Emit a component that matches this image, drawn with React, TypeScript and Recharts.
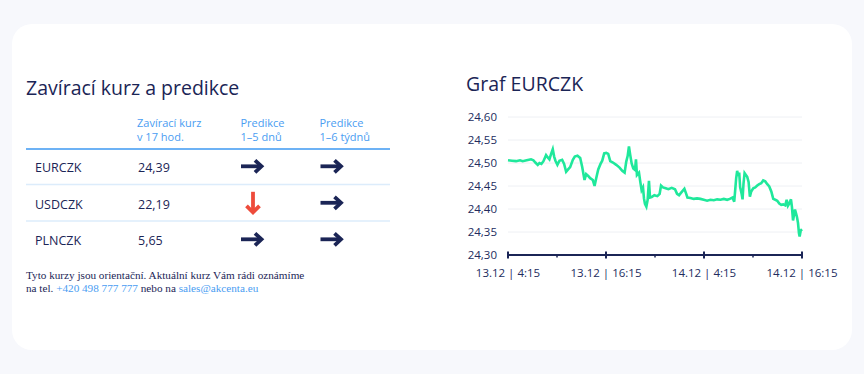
import { LineChart, Line, XAxis, YAxis, CartesianGrid } from 'recharts';

// hours since 13.12 4:15
const hours = [
  0, 0.49, 0.98, 1.47, 1.8, 2.29, 2.82, 3.11, 3.35, 3.64, 3.85, 4.09, 4.34, 4.66, 4.87, 5.07, 5.28, 5.48, 5.65,
  5.81, 6.05, 6.3, 6.63, 6.87, 7.12, 7.36, 7.61, 7.94, 8.18, 8.51, 8.84, 9.08, 9.37, 9.57, 9.82, 10.06, 10.39,
  10.6, 10.8, 11.05, 11.33, 11.54, 11.78, 12.03, 12.27, 12.52, 12.85, 13.25, 13.66, 13.99, 14.28, 14.48, 14.65,
  14.81, 14.97, 15.14, 15.34, 15.55, 15.67, 15.79, 16.04, 16.2, 16.36, 16.53, 16.65, 16.77, 16.94, 17.1, 17.26,
  17.39, 17.59, 17.92, 18.29, 18.57, 18.74, 18.98, 19.31, 19.64, 20.05, 20.45, 20.7, 20.95, 21.23, 21.6, 21.8,
  21.97, 22.34, 22.75, 23.15, 23.56, 23.97, 24.38, 24.79, 25.2, 25.61, 26.02, 26.43, 26.84, 27.16, 27.49, 27.7,
  27.82, 27.94, 28.06, 28.19, 28.31, 28.43, 28.6, 28.72, 28.84, 28.97, 29.13, 29.29, 29.46, 29.62, 29.78, 30.03,
  30.27, 30.52, 30.76, 31.01, 31.25, 31.5, 31.75, 31.99, 32.24, 32.48, 32.73, 32.97, 33.22, 33.46, 33.71, 33.95,
  34.12, 34.28, 34.45, 34.65, 34.77, 34.9, 35.02, 35.14, 35.26, 35.39, 35.51, 35.63, 35.71, 35.84, 36,
];

const rates = [
  24.506, 24.505, 24.504, 24.506, 24.504, 24.506, 24.508, 24.506, 24.501, 24.496, 24.5, 24.498, 24.504, 24.517,
  24.512, 24.508, 24.52, 24.53, 24.514, 24.505, 24.496, 24.505, 24.507, 24.498, 24.481, 24.486, 24.491, 24.507,
  24.514, 24.516, 24.511, 24.492, 24.463, 24.476, 24.472, 24.467, 24.463, 24.45, 24.467, 24.486, 24.498, 24.505,
  24.521, 24.522, 24.52, 24.504, 24.501, 24.496, 24.49, 24.483, 24.479, 24.503, 24.515, 24.536, 24.517, 24.499,
  24.488, 24.485, 24.508, 24.474, 24.479, 24.459, 24.441, 24.447, 24.423, 24.411, 24.405, 24.42, 24.461, 24.425,
  24.426, 24.43, 24.428, 24.433, 24.451, 24.447, 24.445, 24.443, 24.446, 24.443, 24.433, 24.43, 24.436, 24.444,
  24.434, 24.425, 24.424, 24.422, 24.423, 24.422, 24.42, 24.418, 24.42, 24.419, 24.421, 24.42, 24.422, 24.42,
  24.422, 24.425, 24.416, 24.441, 24.467, 24.483, 24.472, 24.479, 24.447, 24.434, 24.421, 24.456, 24.478, 24.474,
  24.47, 24.459, 24.427, 24.438, 24.445, 24.447, 24.451, 24.454, 24.456, 24.462, 24.46, 24.454, 24.449, 24.438,
  24.422, 24.42, 24.418, 24.412, 24.409, 24.41, 24.408, 24.42, 24.407, 24.412, 24.421, 24.404, 24.375, 24.387,
  24.399, 24.391, 24.382, 24.37, 24.347, 24.34, 24.353, 24.356,
];

const xTicks = [0, 6, 12, 18, 24, 30, 36];
const xTickLabels = ['13.12 | 4:15', '13.12 | 16:15', '14.12 | 4:15', '14.12 | 16:15'];
const yTicks = [24.3, 24.35, 24.4, 24.45, 24.5, 24.55, 24.6];

const pairs = ['EURCZK', 'USDCZK', 'PLNCZK'];
const closing = ['24,39', '22,19', '5,65'];
const shortTerm = ['flat', 'down', 'flat'];
const longTerm = ['flat', 'flat', 'flat'];

const chartData = hours.map((t, i) => ({ t, rate: rates[i] }));

const NAVY = '#1b2556';
const BLUE = '#4a9df2';
const sans = '"Open Sans", "Noto Sans", sans-serif';

function XTick(props: any) {
  const { x, y, payload, index } = props;
  const major = payload.value % 12 === 0;
  return (
    <g>
      <line
        x1={x}
        x2={x}
        y1={major ? y - 3.5 : y}
        y2={major ? y + 3.5 : y + 2.5}
        stroke={NAVY}
        strokeWidth={major ? 2 : 1.5}
      />
      {major && (
        <text x={x} y={y + 21.5} textAnchor="middle" fill="#222c5e" fontSize={11.5} fontFamily={sans}>
          {xTickLabels[index / 2]}
        </text>
      )}
    </g>
  );
}

function Arrow({ x, y, dir }: { x: number; y: number; dir: string }) {
  if (dir === 'down') {
    return (
      <g stroke="#ee4b3b" strokeWidth={3.8} fill="none">
        <line x1={x} x2={x} y1={y - 11} y2={y + 9} />
        <polyline points={`${x - 6.5},${y + 3} ${x},${y + 9.5} ${x + 6.5},${y + 3}`} />
      </g>
    );
  }
  return (
    <g stroke={NAVY} strokeWidth={3.8} fill="none">
      <line x1={x - 11} x2={x + 9} y1={y} y2={y} />
      <polyline points={`${x + 3},${y - 6} ${x + 9.5},${y} ${x + 3},${y + 6}`} />
    </g>
  );
}

function RatesTable() {
  const rowBase = [172.3, 208.8, 245.3];
  return (
    <svg width={420} height={320} style={{ position: 'absolute', left: 0, top: 0 }}>
      <text x={26} y={95} fontSize={19.5} fill={NAVY} fontFamily={sans}>
        Zavírací kurz a predikce
      </text>
      <g fontSize={11} fill={BLUE} fontFamily={sans}>
        <text x={137} y={126.7}>Zavírací kurz</text>
        <text x={137} y={140.7}>v 17 hod.</text>
        <text x={240.5} y={126.7}>Predikce</text>
        <text x={240.5} y={140.7}>1–5 dnů</text>
        <text x={319.5} y={126.7}>Predikce</text>
        <text x={319.5} y={140.7}>1–6 týdnů</text>
      </g>
      <line x1={26} x2={390} y1={149} y2={149} stroke="#3d98f2" strokeWidth={1.6} />
      {pairs.map((p, i) => (
        <g key={p}>
          <text x={35} y={rowBase[i]} fontSize={12.5} fill={NAVY} fontFamily={sans}>
            {p}
          </text>
          <text x={138} y={rowBase[i]} fontSize={12.5} fill={NAVY} fontFamily={sans}>
            {closing[i]}
          </text>
          <Arrow x={shortTerm[i] === 'down' ? 253 : 252} y={rowBase[i] - 6} dir={shortTerm[i]} />
          <Arrow x={331.5} y={rowBase[i] - 6} dir={longTerm[i]} />
          {i < pairs.length - 1 && (
            <line x1={26} x2={390} y1={rowBase[i] + 12.3} y2={rowBase[i] + 12.3} stroke="#dcecfb" strokeWidth={1.5} />
          )}
        </g>
      ))}
      <g fontSize={11.2} fill={NAVY} fontFamily='"Liberation Serif", "Times New Roman", serif'>
        <text x={26} y={278.7}>Tyto kurzy jsou orientační. Aktuální kurz Vám rádi oznámíme</text>
        <text x={26} y={292}>
          na tel. <tspan fill={BLUE}>+420 498 777 777</tspan> nebo na <tspan fill={BLUE}>sales@akcenta.eu</tspan>
        </text>
      </g>
    </svg>
  );
}

export default function App() {
  return (
    <div style={{ position: 'relative', width: 864, height: 374, background: '#f7f8fc', overflow: 'hidden' }}>
      <style>{'body{margin:0;background:#f7f8fc}'}</style>
      <div
        style={{
          position: 'absolute',
          left: 12,
          top: 24,
          width: 840,
          height: 326,
          background: '#ffffff',
          borderRadius: 20,
        }}
      />
      <RatesTable />
      <div
        style={{
          position: 'absolute',
          left: 466,
          top: 72,
          fontSize: 19.5,
          lineHeight: '24px',
          color: NAVY,
          fontFamily: sans,
          whiteSpace: 'nowrap',
        }}
      >
        Graf EURCZK
      </div>
      <div style={{ position: 'absolute', left: 448, top: 100 }}>
        <LineChart width={394} height={190} data={chartData} margin={{ top: 17, right: 40, bottom: 5, left: 0 }}>
          <CartesianGrid vertical={false} stroke="#eef0f4" strokeWidth={1} />
          <XAxis
            dataKey="t"
            type="number"
            domain={[0, 36]}
            ticks={xTicks}
            interval={0}
            tickLine={false}
            tickSize={0}
            tickMargin={0}
            axisLine={{ stroke: NAVY, strokeWidth: 2 }}
            tick={<XTick />}
            height={30}
          />
          <YAxis
            domain={[24.3, 24.6]}
            ticks={yTicks}
            interval={0}
            axisLine={false}
            tickLine={false}
            tickSize={0}
            tickMargin={11}
            width={60}
            tick={{ fill: '#222c5e', fontSize: 11.5, fontFamily: sans }}
            tickFormatter={(v: number) => v.toFixed(2).replace('.', ',')}
          />
          <Line
            type="linear"
            dataKey="rate"
            stroke="#1fe89b"
            strokeWidth={2.6}
            dot={false}
            isAnimationActive={false}
          />
        </LineChart>
      </div>
    </div>
  );
}
